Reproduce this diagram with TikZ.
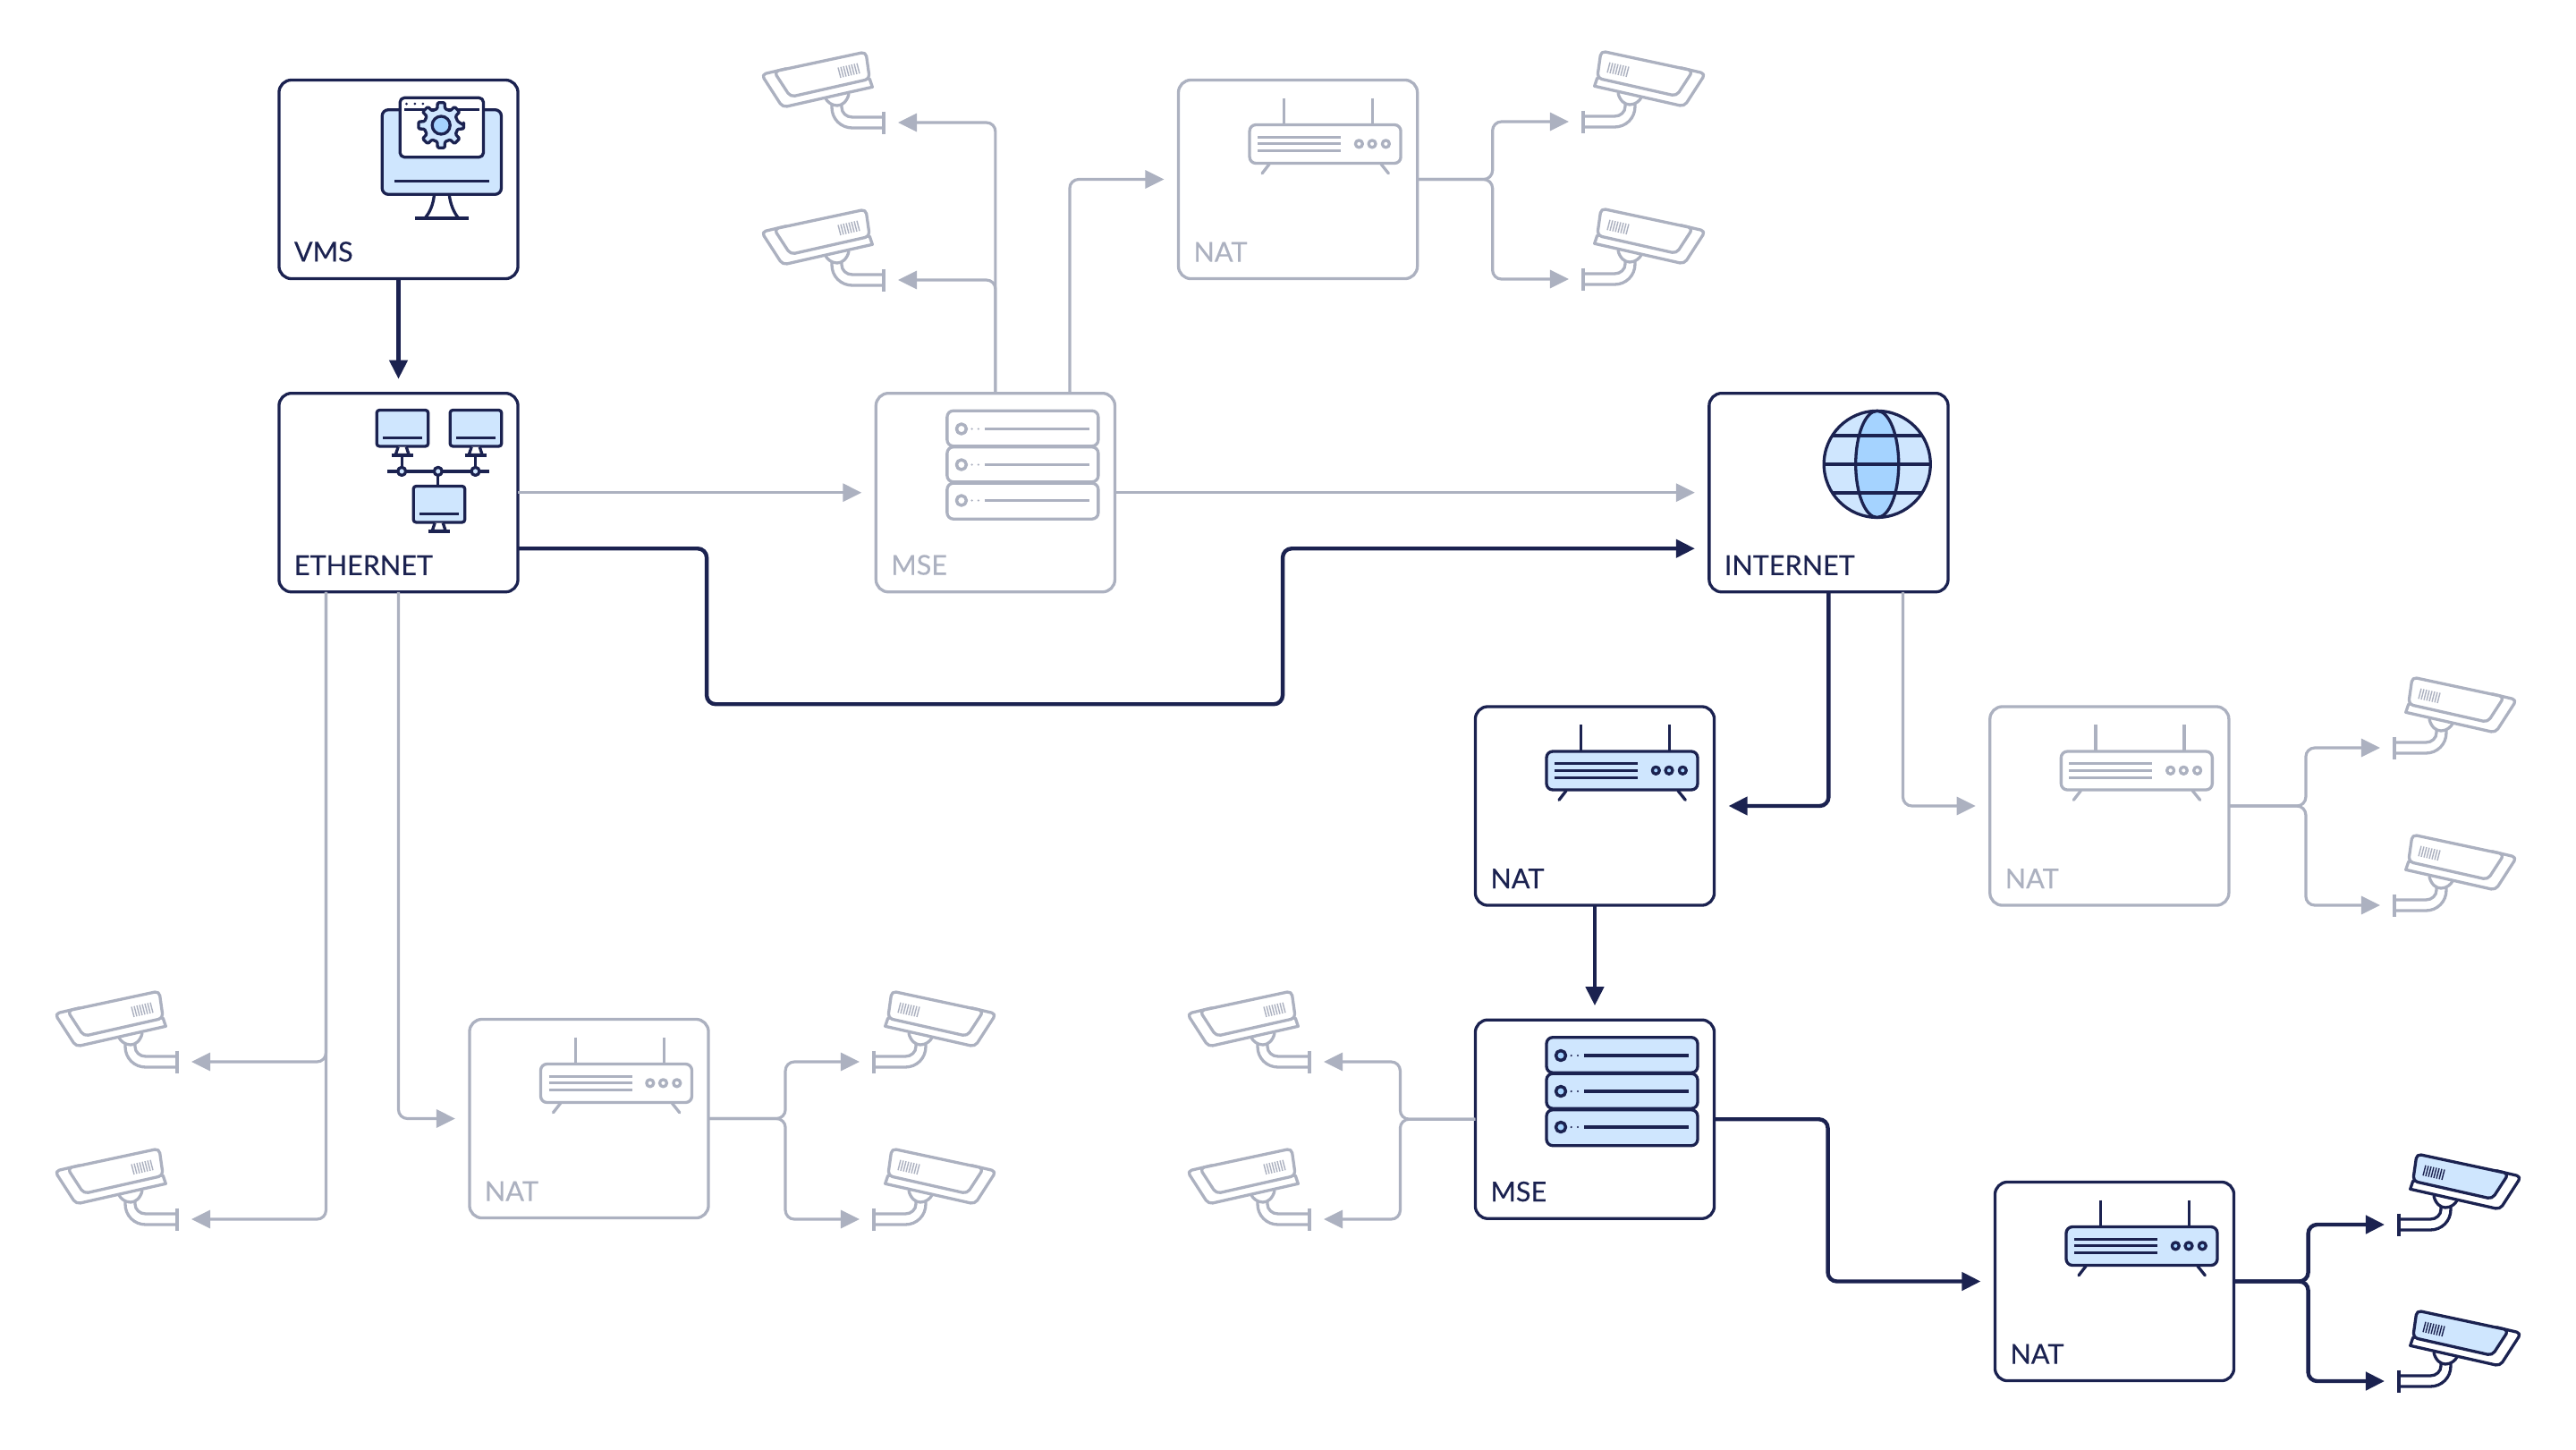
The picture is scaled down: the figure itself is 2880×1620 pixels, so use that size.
\documentclass[tikz,border=0pt]{standalone}
\usepackage{fontspec}
\setmainfont{Lato}
\newfontfamily\labelfont{Lato}[FakeBold=0.2]
\usepackage{tikz}
\usetikzlibrary{arrows.meta, positioning, calc}
\definecolor{navy}{RGB}{27,34,80}
\definecolor{greyline}{RGB}{172,177,192}
\definecolor{iconblue}{RGB}{207,230,254}
\definecolor{iconmid}{RGB}{165,211,255}
\colorlet{ink}{navy}
\colorlet{pale}{iconblue}
\colorlet{mid}{iconmid}

\tikzset{
    greyicon/.code={\colorlet{ink}{greyline}\colorlet{pale}{white}\colorlet{mid}{white}},
    iconline/.style={draw=ink, line width=0.033cm, line join=round},
    pics/camera/.style={code={
        \draw[iconline, line width=0.035cm] (0,-12.5) -- (0,12.5);
        \draw[iconline] (0,-6) -- (35,-6) .. controls (42,-6) and (47,-11) .. (47,-17) -- (47,-22);
        \draw[iconline] (0,6) -- (35,6) .. controls (48,6) and (58,-4) .. (58,-17) -- (58,-22);
        \draw[iconline, fill=white] (39,-32) .. controls (41,-23) and (47,-19) .. (52,-19) .. controls (58,-19) and (63,-23) .. (65,-27);
        \draw[iconline, fill=white] (12.7,-39.7) [rounded corners=0.05cm] -- (113,-17) -- (136.7,-53.7) [sharp corners] -- (110,-60) -- (15.7,-48.7) -- cycle;
        \draw[iconline, fill=pale, rounded corners=0.05cm] (15.7,-48.7) -- (20,-79) -- (122.7,-57) -- (104.3,-28.7) -- cycle;
        \foreach \i in {0,...,7}
            \draw[draw=ink, line width=0.014cm] ({30+\i*3},{-66.3+\i*0.68}) -- ++(-3,11.5);
    }},
    pics/router/.style={code={
        \draw[iconline] (-15.3,-91) -- (-15.3,-61);
        \draw[iconline] (83.7,-91) -- (83.7,-61);
        \draw[iconline, line cap=round] (-32,-17) -- (-40,-6.7);
        \draw[iconline, line cap=round] (93,-17) -- (101.3,-6.7);
        \draw[iconline, fill=pale, rounded corners=0.07cm] (-54,-61) rectangle (115,-18);
        \foreach \ly in {-47.3,-39.7,-31.7}
            \draw[iconline] (-45,\ly) -- (48,\ly);
        \foreach \dx in {68.3,83,98.3}
            \draw[iconline, fill=mid] (\dx,-39.7) circle (0.04cm);
    }},
    pics/server/.style={code={
        \foreach \ty/\by/\ly in {-91.5/-52/-71.2, -51/-12/-31.2, -10.5/29.5/8.8} {
            \draw[iconline, fill=pale, rounded corners=0.07cm] (-54,\ty) rectangle (115,\by);
            \draw[iconline, line width=0.035cm, fill=mid] (-38,\ly) circle (0.055cm);
            \fill[ink] (-26.3,\ly) circle (0.012cm) (-19,\ly) circle (0.012cm);
            \draw[iconline] (-12,\ly) -- (105,\ly);
        }
    }},
    pics/globe/.style={code={
        \draw[iconline, fill=pale] (54.3,-31.8) circle (0.595cm);
        \draw[iconline, fill=mid] (54.3,-31.8) ellipse (0.24cm and 0.595cm);
        \draw[iconline] (4.3,-63.8) -- (104.3,-63.8);
        \draw[iconline] (-5.2,-31.8) -- (113.8,-31.8);
        \draw[iconline] (4.3,0.2) -- (104.3,0.2);
    }},
    pics/lan/.style={code={
        \draw[iconline] (-12.3,-23.8) -- (101.7,-23.8);
        \draw[iconline] (3.7,-41.5) -- (3.7,-23.8);
        \draw[iconline] (86,-41.5) -- (86,-23.8);
        \draw[iconline] (44.3,-23.8) -- (44.3,-7.2);
        \foreach \mx/\my in {-24.3/-92.2, 57.7/-92.2, 16.7/-7.2} {
            \draw[iconline, fill=pale, rounded corners=0.03cm] (\mx,\my) rectangle ++(57.5,40.4);
            \draw[iconline] ({\mx+6.6},{\my+31}) -- ++(44.4,0);
            \draw[iconline, fill=white] ({\mx+24},{\my+41}) -- ({\mx+21},{\my+50}) -- ({\mx+36},{\my+50}) -- ({\mx+33},{\my+41});
            \draw[iconline] ({\mx+16.5},{\my+50.5}) -- ++(24.5,0);
        }
        \foreach \cx in {3.7,44.3,86}
            \draw[iconline, fill=pale] (\cx,-23.8) circle (0.045cm);
    }},
    pics/console/.style={code={
        \draw[iconline, fill=pale, rounded corners=0.07cm] (-18.3,-77.8) rectangle (115,16.8);
        \draw[draw=ink, line width=0.03cm] (-4.3,1.8) -- (101,1.8);
        \draw[iconline] (40,16.8) .. controls (39,28) and (35,37) .. (30,42.8);
        \draw[iconline] (56.7,16.8) .. controls (58,28) and (62,37) .. (66.7,42.8);
        \draw[iconline] (18.3,43.5) -- (78.3,43.5);
        \draw[iconline, fill=white, rounded corners=0.05cm] (1.7,-91.2) rectangle (95,-24.8);
        \draw[iconline] (6.7,-77.8) -- (90,-77.8);
        \foreach \dx in {9,18.3,27.3}
            \fill[ink] (\dx,-84.5) circle (0.015cm);
        \begin{scope}[shift={(47.7,-60.5)}]
            \draw[iconline, fill=pale, rounded corners=0.012cm] (0:25.5)
                \foreach \a in {0,45,...,315} {
                    -- (\a-9:25.5) -- (\a+9:25.5) -- (\a+13:19) -- (\a+32:19)
                } -- cycle;
            \draw[iconline, fill=mid] (0,0) circle (0.1cm);
        \end{scope}
    }}
}

\begin{document}
\begin{tikzpicture}[
    x=0.01cm, y=-0.01cm,
    darkbox/.style={rectangle, draw=navy, fill=white, line width=0.033cm, minimum width=2.67cm, minimum height=2.22cm, rounded corners=0.14cm, outer sep=0pt, inner sep=0pt},
    greybox/.style={darkbox, draw=greyline},
    darklabel/.style={text=navy, inner sep=0pt, outer sep=0pt, font=\labelfont\fontsize{8.7}{10}\selectfont},
    greylabel/.style={darklabel, text=greyline},
    darkarr/.style={-{Triangle[length=0.21cm, width=0.2cm]}, line width=0.044cm, draw=navy, rounded corners=0.1cm, shorten >=0.16cm},
    greyarr/.style={darkarr, line width=0.032cm, draw=greyline}
]
    \useasboundingbox (0,0) rectangle (2880,1620);

    \node (vms) [darkbox] at (445.5,200.5) {};
    \node (eth) [darkbox, below=1.28cm of vms] {};
    \node (mse) [greybox, right=4cm of eth] {};
    \node (internet) [darkbox, right=6.64cm of mse] {};
    \node (nattop) [greybox, right=7.38cm of vms] {};
    \node (nat) [darkbox] at (1783,901) {};
    \node (natright) [greybox, right=3.08cm of nat] {};
    \node (msedark) [darkbox, below=1.28cm of nat] {};
    \node (natlow) [darkbox] at (2364,1432.5) {};
    \node (natleft) [greybox] at (658.5,1250.5) {};

    \node (vmslabel) [darklabel, above right=0.19cm and 0.17cm of vms.south west] {VMS};
    \node (ethlabel) [darklabel, above right=0.19cm and 0.17cm of eth.south west] {ETHERNET};
    \node (mselabel) [greylabel, above right=0.19cm and 0.17cm of mse.south west] {MSE};
    \node (internetlabel) [darklabel, above right=0.19cm and 0.17cm of internet.south west] {INTERNET};
    \node (nattoplabel) [greylabel, above right=0.19cm and 0.17cm of nattop.south west] {NAT};
    \node (natlabel) [darklabel, above right=0.19cm and 0.17cm of nat.south west] {NAT};
    \node (natrightlabel) [greylabel, above right=0.19cm and 0.17cm of natright.south west] {NAT};
    \node (msedarklabel) [darklabel, above right=0.19cm and 0.17cm of msedark.south west] {MSE};
    \node (natlowlabel) [darklabel, above right=0.19cm and 0.17cm of natlow.south west] {NAT};
    \node (natleftlabel) [greylabel, above right=0.19cm and 0.17cm of natleft.south west] {NAT};

    \pic at (vms.center) {console};
    \pic at (eth.center) {lan};
    \pic at (internet.center) {globe};
    \pic at (nat.center) {router};
    \pic at (natlow.center) {router};
    \pic at (msedark.center) {server};
    \pic[greyicon] at (mse.center) {server};
    \pic[greyicon] at (nattop.center) {router};
    \pic[greyicon] at (natright.center) {router};
    \pic[greyicon] at (natleft.center) {router};

    % cameras, the coordinate sits on the wall plate
    \coordinate (camtopa) at (988,137);
    \coordinate (camtopb) at (988,313);
    \coordinate (camnata) at (1770,136);
    \coordinate (camnatb) at (1770,312);
    \coordinate (camrighta) at (2677,836);
    \coordinate (camrightb) at (2677,1012);
    \coordinate (camlowa) at (198,1187);
    \coordinate (camlowb) at (198,1363);
    \coordinate (camlefta) at (977,1187);
    \coordinate (cameleftb) at (977,1363);
    \coordinate (cammida) at (1464,1187);
    \coordinate (cammidb) at (1464,1363);
    \coordinate (camdarka) at (2682,1369);
    \coordinate (camdarkb) at (2682,1544);

    \foreach \cam in {camtopa, camtopb, camlowa, camlowb, cammida, cammidb}
        \pic[greyicon, xscale=-1] at (\cam) {camera};
    \foreach \cam in {camnata, camnatb, camrighta, camrightb, camlefta, cameleftb}
        \pic[greyicon] at (\cam) {camera};
    \pic at (camdarka) {camera};
    \pic at (camdarkb) {camera};

    \draw[greyarr] (eth.east) -- (mse.west);
    \draw[greyarr] (mse.east) -- (internet.west);
    \draw[greyarr] (mse.north) |- (camtopa);
    \draw[greyarr] (mse.north) |- (camtopb);
    \draw[greyarr] ([xshift=0.83cm]mse.north) |- (nattop.west);
    \draw[greyarr] (nattop.east) -- ++(84,0) |- (camnata);
    \draw[greyarr] (nattop.east) -- ++(84,0) |- (camnatb);
    \draw[greyarr] ([xshift=0.83cm]internet.south) |- (natright.west);
    \draw[greyarr] (natright.east) -- ++(86,0) |- (camrighta);
    \draw[greyarr] (natright.east) -- ++(86,0) |- (camrightb);
    \draw[greyarr] ([xshift=-0.81cm]eth.south) |- (camlowa);
    \draw[greyarr] ([xshift=-0.81cm]eth.south) |- (camlowb);
    \draw[greyarr] (eth.south) |- (natleft.west);
    \draw[greyarr] (natleft.east) -- ++(86,0) |- (camlefta);
    \draw[greyarr] (natleft.east) -- ++(86,0) |- (cameleftb);
    \draw[greyarr] (msedark.west) -- ++(-84,0) |- (cammida);
    \draw[greyarr] (msedark.west) -- ++(-84,0) |- (cammidb);

    \draw[darkarr] (vms.south) -- (eth.north);
    \draw[darkarr] ([yshift=-0.625cm]eth.east) -- ++(211,0) -- ++(0,174) -- ++(644,0) |- ([yshift=-0.625cm]internet.west);
    \draw[darkarr] (internet.south) |- (nat.east);
    \draw[darkarr] (nat.south) -- (msedark.north);
    \draw[darkarr] (msedark.east) -- ++(127,0) |- (natlow.west);
    \draw[darkarr] (natlow.east) -- ++(83,0) |- (camdarka);
    \draw[darkarr] (natlow.east) -- ++(83,0) |- (camdarkb);
\end{tikzpicture}
\end{document}
